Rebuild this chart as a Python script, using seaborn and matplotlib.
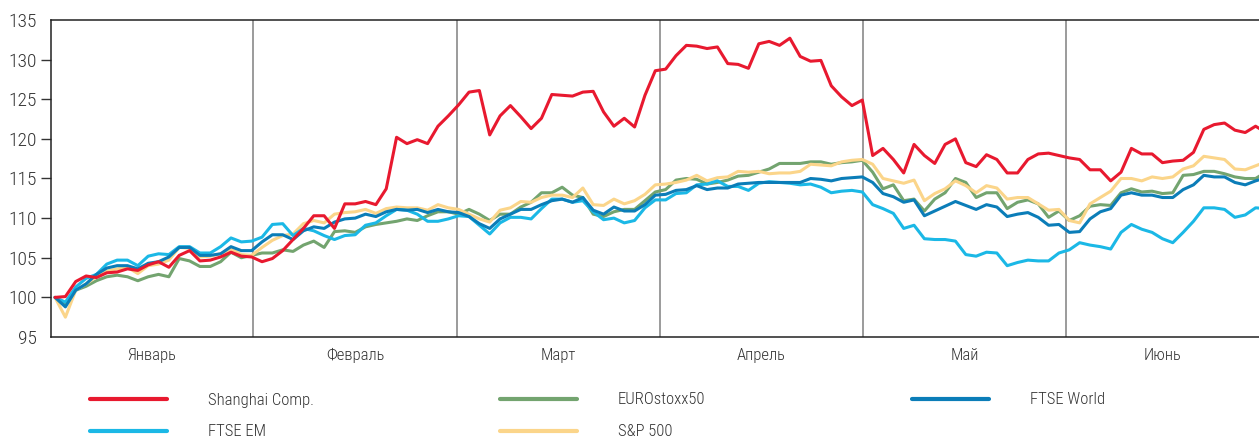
import numpy as np
import pandas as pd
import matplotlib
matplotlib.use("Agg")
import matplotlib.pyplot as plt
from matplotlib.lines import Line2D
import seaborn as sns

# index values (start = 100), one point per trading day
shanghai = [100.0, 100.1, 102.0, 102.7, 102.5, 103.1, 103.2, 103.6, 103.4, 104.1,
            104.5, 103.8, 105.3, 105.9, 104.6, 104.7, 105.1, 105.7, 105.2, 105.1,
            104.5, 104.9, 105.9, 107.3, 108.7, 110.3, 110.3, 108.7, 111.8, 111.8,
            112.1, 111.7, 113.7, 120.2, 119.4, 119.9, 119.4, 121.6, 122.9, 124.3,
            125.9, 126.1, 120.5, 122.9, 124.2, 122.8, 121.3, 122.6, 125.6, 125.5,
            125.4, 125.9, 126.0, 123.4, 121.6, 122.6, 121.5, 125.5, 128.6, 128.8,
            130.5, 131.8, 131.7, 131.4, 131.6, 129.5, 129.4, 128.9, 132.0, 132.3,
            131.8, 132.7, 130.4, 129.8, 129.9, 126.7, 125.3, 124.2, 124.9, 117.9,
            118.8, 117.4, 115.7, 119.3, 117.9, 116.9, 119.3, 120.0, 117.0, 116.5,
            118.0, 117.4, 115.7, 115.7, 117.4, 118.1, 118.2, 117.9, 117.6, 117.4,
            116.1, 116.1, 114.7, 115.8, 118.8, 118.1, 118.1, 117.0, 117.2, 117.3,
            118.3, 121.2, 121.8, 122.0, 121.1, 120.8, 121.6, 120.8]
ftse_em = [100.0, 99.4, 101.3, 102.4, 102.9, 104.2, 104.7, 104.7, 104.0, 105.2,
           105.5, 105.4, 106.4, 106.4, 105.6, 105.6, 106.4, 107.5, 107.0, 107.1,
           107.6, 109.2, 109.3, 107.8, 108.7, 108.4, 107.8, 107.3, 107.8, 107.9,
           109.1, 109.4, 110.3, 111.1, 111.0, 110.5, 109.6, 109.6, 109.9, 110.3,
           110.2, 109.1, 108.0, 109.4, 110.1, 110.1, 109.9, 111.2, 112.4, 112.4,
           112.0, 112.2, 110.8, 109.8, 110.0, 109.4, 109.7, 111.3, 112.3, 112.3,
           113.1, 113.2, 114.2, 114.3, 114.7, 114.0, 114.0, 113.5, 114.4, 114.6,
           114.5, 114.4, 114.2, 114.3, 113.9, 113.2, 113.4, 113.5, 113.3, 111.7,
           111.2, 110.6, 108.7, 109.1, 107.4, 107.3, 107.3, 107.1, 105.4, 105.2,
           105.7, 105.6, 104.0, 104.4, 104.7, 104.6, 104.6, 105.6, 106.0, 106.9,
           106.6, 106.4, 106.1, 108.2, 109.2, 108.6, 108.2, 107.4, 106.9, 108.2,
           109.6, 111.3, 111.3, 111.1, 110.1, 110.4, 111.3, 111.2]
ftse_world = [100.0, 98.8, 100.9, 101.7, 102.9, 103.7, 104.0, 104.0, 103.6, 104.3,
              104.5, 105.1, 106.3, 106.3, 105.3, 105.3, 105.5, 106.4, 105.9, 105.9,
              107.0, 107.9, 107.9, 107.3, 108.4, 108.9, 108.7, 109.5, 109.9, 110.0,
              110.5, 110.2, 110.8, 111.1, 111.0, 111.1, 110.7, 111.1, 110.8, 110.7,
              110.2, 109.3, 108.7, 109.9, 110.5, 111.1, 111.1, 111.7, 112.2, 112.4,
              112.0, 112.6, 111.0, 110.5, 111.4, 110.9, 110.9, 111.7, 112.9, 113.0,
              113.5, 113.6, 114.1, 113.6, 113.8, 113.8, 114.3, 114.4, 114.5, 114.5,
              114.5, 114.5, 114.5, 115.0, 114.9, 114.7, 115.0, 115.1, 115.2, 114.5,
              113.1, 112.7, 112.0, 112.3, 110.3, 110.9, 111.5, 112.1, 111.6, 111.1,
              111.7, 111.4, 110.2, 110.5, 110.7, 110.1, 109.1, 109.2, 108.2, 108.3,
              109.9, 110.8, 111.2, 112.9, 113.2, 112.9, 112.9, 112.6, 112.6, 113.6,
              114.2, 115.4, 115.2, 115.2, 114.5, 114.2, 114.7, 115.1]
sp500 = [100.0, 97.5, 100.9, 101.7, 102.6, 103.3, 103.6, 103.8, 103.0, 104.0,
         104.2, 104.7, 106.3, 106.2, 105.1, 105.2, 105.5, 106.1, 105.4, 105.3,
         106.3, 107.2, 107.8, 108.0, 109.3, 109.7, 109.4, 110.5, 110.7, 110.8,
         111.1, 110.6, 111.2, 111.4, 111.3, 111.3, 111.0, 111.7, 111.3, 111.1,
         110.5, 109.9, 109.5, 111.0, 111.3, 112.1, 112.0, 112.6, 112.9, 112.9,
         112.6, 113.8, 111.7, 111.6, 112.4, 111.8, 112.2, 113.0, 114.2, 114.3,
         114.5, 114.8, 115.4, 114.7, 115.1, 115.2, 115.9, 115.8, 115.9, 115.6,
         115.7, 115.7, 115.9, 116.8, 116.7, 116.6, 117.1, 117.3, 117.4, 116.8,
         115.0, 114.7, 114.4, 114.8, 112.2, 113.1, 113.7, 114.7, 114.1, 113.2,
         114.1, 113.8, 112.4, 112.6, 112.6, 111.8, 111.0, 111.1, 109.7, 109.4,
         111.8, 112.6, 113.4, 115.0, 115.0, 114.7, 115.2, 115.0, 115.2, 116.2,
         116.6, 117.8, 117.6, 117.4, 116.2, 116.1, 116.6, 117.1]
eurostoxx = [100.0, 99.2, 100.9, 101.4, 102.1, 102.6, 102.8, 102.6, 102.1, 102.6,
             102.9, 102.6, 104.9, 104.6, 103.9, 103.9, 104.5, 105.7, 105.0, 105.3,
             105.6, 105.6, 106.0, 105.8, 106.6, 107.1, 106.3, 108.3, 108.4, 108.2,
             108.9, 109.2, 109.4, 109.6, 109.9, 109.7, 110.3, 110.8, 110.8, 110.5,
             111.1, 110.5, 109.7, 110.5, 110.5, 111.4, 112.0, 113.2, 113.2, 113.9,
             112.9, 112.6, 110.5, 110.2, 110.8, 111.1, 111.1, 112.2, 113.3, 113.6,
             114.8, 115.0, 114.9, 114.3, 114.5, 114.8, 115.3, 115.4, 115.8, 116.2,
             116.9, 116.9, 116.9, 117.1, 117.1, 116.8, 117.0, 117.1, 117.3, 115.8,
             113.7, 114.2, 112.2, 112.4, 110.9, 112.4, 113.2, 115.0, 114.5, 112.6,
             113.2, 113.2, 111.2, 112.0, 112.3, 111.8, 110.1, 110.9, 109.7, 110.3,
             111.5, 111.7, 111.6, 113.2, 113.7, 113.3, 113.4, 113.1, 113.2, 115.4,
             115.5, 115.9, 115.9, 115.6, 115.2, 115.0, 115.0, 115.8]

months = ["Январь", "Февраль", "Март", "Апрель", "Май", "Июнь"]
month_bounds = [-0.39, 19.13, 38.84, 58.45, 78.07, 97.68, 116.33]

series = {
    "Shanghai Comp.": shanghai,
    "FTSE EM": ftse_em,
    "EUROstoxx50": eurostoxx,
    "S&P 500": sp500,
    "FTSE World": ftse_world,
}
colors = {
    "Shanghai Comp.": "#E8192F",
    "FTSE EM": "#1BB8E6",
    "EUROstoxx50": "#73A46F",
    "S&P 500": "#FBD58A",
    "FTSE World": "#0B7DB8",
}
draw_order = ["EUROstoxx50", "S&P 500", "FTSE EM", "FTSE World", "Shanghai Comp."]

df = pd.concat(
    [pd.DataFrame({"day": np.arange(len(v)), "value": v, "index": k}) for k, v in series.items()],
    ignore_index=True,
)

sns.set_style("white")
plt.rcParams["font.family"] = ["Roboto Condensed", "Liberation Sans Narrow",
                               "Liberation Sans", "DejaVu Sans"]
plt.rcParams["font.weight"] = "light"
text_color = "#333333"

W, H = 1259, 441
fig = plt.figure(figsize=(W / 100, H / 100), dpi=100)
ax = fig.add_axes([51 / W, 1 - 337 / H, (W - 51) / W, (337 - 20) / H])

sns.lineplot(data=df, x="day", y="value", hue="index", hue_order=draw_order,
             palette=colors, linewidth=2.2, legend=False, ax=ax)

ax.set_xlim(month_bounds[0], month_bounds[-1])
ax.set_ylim(95, 135)
for b in month_bounds[1:-1]:
    ax.axvline(b, color="#808080", lw=1.1, zorder=0)

mids = [(a + b) / 2 for a, b in zip(month_bounds[:-1], month_bounds[1:])]
ax.set_xticks(mids)
ax.set_xticklabels(months)
ax.tick_params(axis="x", length=0, pad=8, labelsize=12, labelcolor=text_color)
ax.set_yticks(range(95, 136, 5))
ax.tick_params(axis="y", length=7, width=1, pad=3, labelsize=14,
               labelcolor=text_color, color="#333333", left=True)
yt = ax.yaxis.get_major_ticks()
yt[0].tick1line.set_visible(False)
yt[-1].tick1line.set_visible(False)
ax.set_xlabel("")
ax.set_ylabel("")

ax.spines["right"].set_visible(False)
for s in ["top", "left", "bottom"]:
    ax.spines[s].set_color("#222222")
    ax.spines[s].set_linewidth(1.1)

# legend: 3 columns x 2 rows
legend_pos = {
    "Shanghai Comp.": (90, 400),
    "FTSE EM": (90, 432),
    "EUROstoxx50": (500, 400),
    "S&P 500": (500, 432),
    "FTSE World": (912, 400),
}
fs = 12
for name, (px, py) in legend_pos.items():
    h = Line2D([], [], color=colors[name], lw=3)
    leg = fig.legend([h], [name], loc="center left", bbox_to_anchor=(px / W, 1 - py / H),
                     frameon=False, fontsize=fs, borderpad=0, borderaxespad=0,
                     handlelength=77 / (fs * 100 / 72), handletextpad=41 / (fs * 100 / 72))
    for t in leg.get_texts():
        t.set_color(text_color)

fig.savefig("out.png", dpi=100)
plt.close(fig)
